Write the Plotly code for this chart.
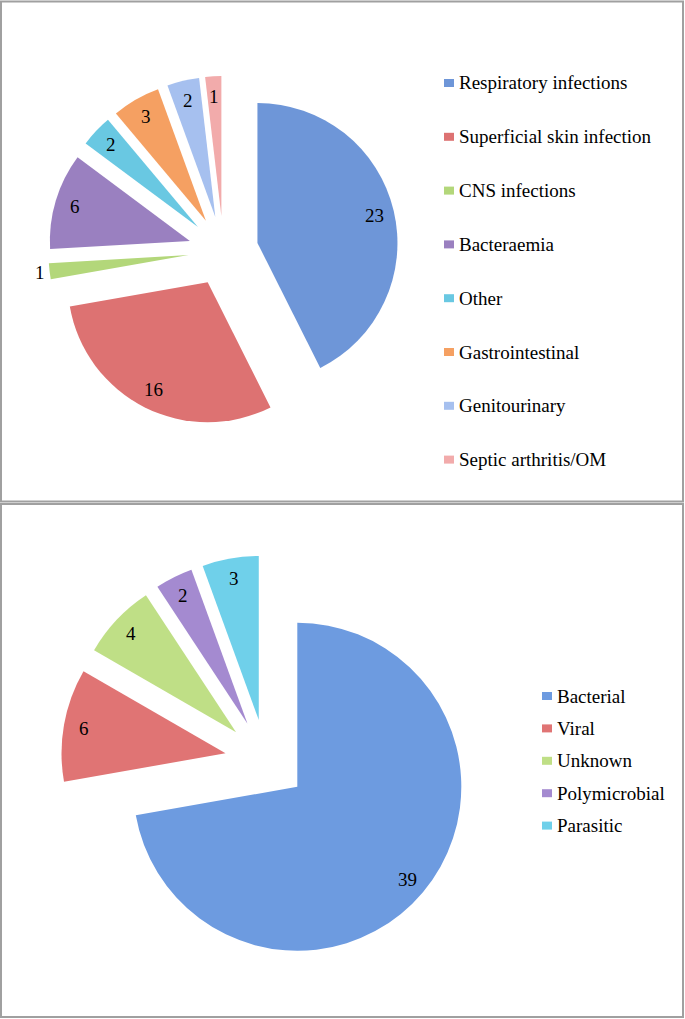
import math
import plotly.graph_objects as go

# Datos de los dos gráficos circulares
top_labels = ['Respiratory infections', 'Superficial skin infection', 'CNS infections',
              'Bacteraemia', 'Other', 'Gastrointestinal', 'Genitourinary', 'Septic arthritis/OM']
top_values = [23, 16, 1, 6, 2, 3, 2, 1]

bottom_labels = ['Bacterial', 'Viral', 'Unknown', 'Polymicrobial', 'Parasitic']
bottom_values = [39, 6, 4, 2, 3]

# Colores (tono medio del degradado original)
top_colors = ['#6e96d8', '#dd7272', '#b3d77a', '#9a80c0', '#69c8e2', '#f5a062', '#a6c0ef', '#f2abab']
bottom_colors = ['#6d9be0', '#e07474', '#bfdf86', '#a48ad0', '#6fd0ea']

W, H = 685, 1019
font_family = 'Liberation Serif'
pull = 0.25


def px(x):
    return x / W


def py(y):
    return 1 - y / H


def pie_domain(cx, cy, r):
    half = r * (1 + pull)
    return dict(x=[px(cx - half), px(cx + half)], y=[py(cy + half), py(cy - half)])


def value_annotations(values, cx, cy, r):
    # etiquetas de valor cerca del borde exterior de cada porción
    total = sum(values)
    anns = []
    cum = 0
    for v in values:
        mid = (cum + v / 2) / total * 2 * math.pi
        cum += v
        dx, dy = math.sin(mid), -math.cos(mid)
        narrow = v / total < 0.03 and abs(dy) < 0.5
        dist = pull * r + (r + 10 if narrow else r - 20)
        anns.append(dict(x=px(cx + dist * dx), y=py(cy + dist * dy), xref='paper', yref='paper',
                         text=str(v), showarrow=False, xanchor='center', yanchor='middle',
                         font=dict(family=font_family, size=19, color='black')))
    return anns


def legend_items(labels, colors, x0, y0, step):
    anns, shapes = [], []
    for i, (lab, col) in enumerate(zip(labels, colors)):
        y = y0 + i * step
        shapes.append(dict(type='rect', xref='paper', yref='paper',
                           x0=px(x0), x1=px(x0 + 10), y0=py(y + 4), y1=py(y - 4),
                           fillcolor=col, line=dict(width=0)))
        anns.append(dict(x=px(x0 + 13), y=py(y), xref='paper', yref='paper', text=lab,
                         showarrow=False, xanchor='left', yanchor='middle',
                         font=dict(family=font_family, size=19, color='black')))
    return anns, shapes


# Centro y radio (píxeles) de cada gráfico
top_c = (223.4, 251.0, 140)
bot_c = (265.9, 760.4, 164)

fig = go.Figure()
fig.add_trace(go.Pie(labels=top_labels, values=top_values, sort=False, direction='clockwise',
                     rotation=0, pull=pull, textinfo='none', showlegend=False,
                     marker=dict(colors=top_colors, line=dict(width=0)),
                     domain=pie_domain(*top_c)))
fig.add_trace(go.Pie(labels=bottom_labels, values=bottom_values, sort=False, direction='clockwise',
                     rotation=0, pull=pull, textinfo='none', showlegend=False,
                     marker=dict(colors=bottom_colors, line=dict(width=0)),
                     domain=pie_domain(*bot_c)))

annotations = value_annotations(top_values, *top_c) + value_annotations(bottom_values, *bot_c)
a1, s1 = legend_items(top_labels, top_colors, 444, 83, 53.8)
a2, s2 = legend_items(bottom_labels, bottom_colors, 542, 696, 32.4)
annotations += a1 + a2

# Marcos de los dos paneles
border = dict(color='#a0a0a0', width=2)
shapes = s1 + s2 + [
    dict(type='rect', xref='paper', yref='paper', x0=px(1), x1=px(683), y0=py(501.5), y1=py(1.5),
         line=border, fillcolor='rgba(0,0,0,0)'),
    dict(type='rect', xref='paper', yref='paper', x0=px(1), x1=px(683), y0=py(1017), y1=py(504),
         line=border, fillcolor='rgba(0,0,0,0)'),
]

fig.update_layout(width=W, height=H, margin=dict(l=0, r=0, t=0, b=0),
                  paper_bgcolor='white', plot_bgcolor='white',
                  annotations=annotations, shapes=shapes)

# Quitar el margen por defecto del <body> para que la figura ocupe toda la ventana
fig.write_html('out.html', config={'displayModeBar': False},
               post_script="document.body.style.margin='0';document.body.style.overflow='hidden';")
